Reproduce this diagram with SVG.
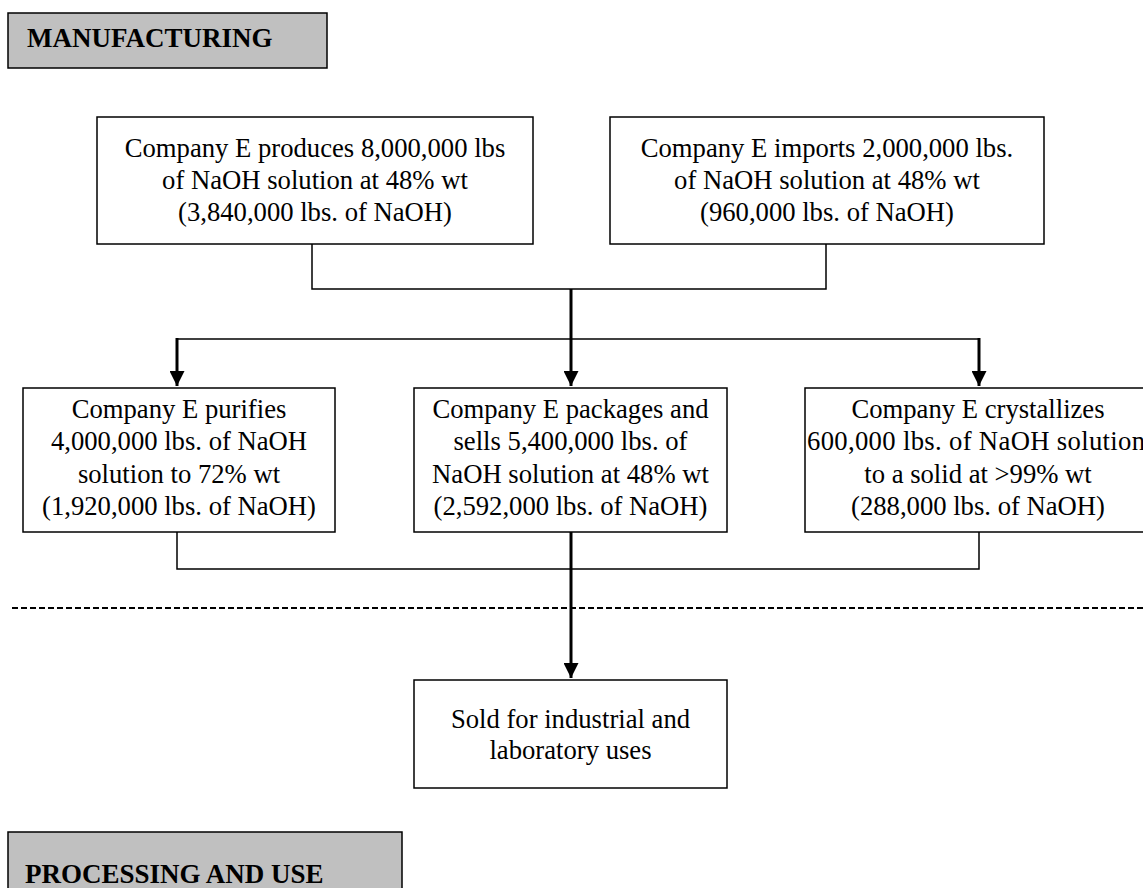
<svg xmlns="http://www.w3.org/2000/svg" width="1143" height="888" viewBox="0 0 1143 888">
  <style>
    text { font-family: "Liberation Serif", "Times New Roman", serif; font-size: 26.67px; fill: #000; }
    .hdr rect { fill: #c0c0c0; stroke: #000; stroke-width: 1.5; }
    .hdr text { font-weight: bold; font-size: 27px; }
    .box rect { fill: #fff; stroke: #000; stroke-width: 1.5; }
    .box text { text-anchor: middle; }
    .thin { fill: none; stroke: #000; stroke-width: 1.5; }
    .thick { fill: none; stroke: #000; stroke-width: 3; }
    .dash { fill: none; stroke: #000; stroke-width: 2; stroke-dasharray: 6 3; }
  </style>
  <defs>
    <marker id="arrow" viewBox="0 0 10 10" refX="10" refY="5" markerWidth="5.6" markerHeight="5" markerUnits="strokeWidth" orient="auto">
      <path d="M0,0 L10,5 L0,10 Z" fill="#000"/>
    </marker>
  </defs>
  <rect width="1143" height="888" fill="#fff"/>

  <!-- section headers -->
  <g id="hdr-manufacturing" class="hdr">
    <rect x="8" y="13" width="319" height="55"/>
    <text x="27" y="47">MANUFACTURING</text>
  </g>
  <g id="hdr-processing" class="hdr">
    <rect x="8" y="832" width="394" height="70"/>
    <text x="25" y="883">PROCESSING AND USE</text>
  </g>

  <!-- connectors -->
  <g id="connectors">
    <polyline class="thin" points="312,244 312,289 826,289 826,244"/>
    <line class="thin" x1="177" y1="339" x2="979" y2="339"/>
    <line class="thick" x1="571" y1="289" x2="571" y2="386" marker-end="url(#arrow)"/>
    <line class="thick" x1="177" y1="338" x2="177" y2="386" marker-end="url(#arrow)"/>
    <line class="thick" x1="979" y1="338" x2="979" y2="386" marker-end="url(#arrow)"/>
    <polyline class="thin" points="177,532 177,569 979,569 979,532"/>
    <line class="thick" x1="571" y1="532" x2="571" y2="678" marker-end="url(#arrow)"/>
    <line class="dash" x1="12" y1="608" x2="1143" y2="608"/>
  </g>

  <g id="produce" class="box">
    <rect x="97" y="117" width="436" height="127"/>
    <text x="315" y="157">Company E produces 8,000,000 lbs</text>
    <text x="315" y="189">of NaOH solution at 48% wt</text>
    <text x="315" y="221">(3,840,000 lbs. of NaOH)</text>
  </g>
  <g id="import" class="box">
    <rect x="610" y="117" width="434" height="127"/>
    <text x="827" y="157">Company E imports 2,000,000 lbs.</text>
    <text x="827" y="189">of NaOH solution at 48% wt</text>
    <text x="827" y="221">(960,000 lbs. of NaOH)</text>
  </g>
  <g id="purify" class="box">
    <rect x="23" y="388" width="312" height="144"/>
    <text x="179" y="418">Company E purifies</text>
    <text x="179" y="450">4,000,000 lbs. of NaOH</text>
    <text x="179" y="483">solution to 72% wt</text>
    <text x="179" y="515">(1,920,000 lbs. of NaOH)</text>
  </g>
  <g id="package" class="box">
    <rect x="414" y="388" width="313" height="144"/>
    <text x="570.5" y="418">Company E packages and</text>
    <text x="570.5" y="450">sells 5,400,000 lbs. of</text>
    <text x="570.5" y="483">NaOH solution at 48% wt</text>
    <text x="570.5" y="515">(2,592,000 lbs. of NaOH)</text>
  </g>
  <g id="crystallize" class="box">
    <rect x="805" y="388" width="360" height="144"/>
    <text x="978" y="418">Company E crystallizes</text>
    <text x="807" y="450" style="text-anchor:start" textLength="338" lengthAdjust="spacing">600,000 lbs. of NaOH solution</text>
    <text x="978" y="483">to a solid at &gt;99% wt</text>
    <text x="978" y="515">(288,000 lbs. of NaOH)</text>
  </g>
  <g id="sold" class="box">
    <rect x="414" y="680" width="313" height="108"/>
    <text x="570.5" y="728">Sold for industrial and</text>
    <text x="570.5" y="759">laboratory uses</text>
  </g>
</svg>
